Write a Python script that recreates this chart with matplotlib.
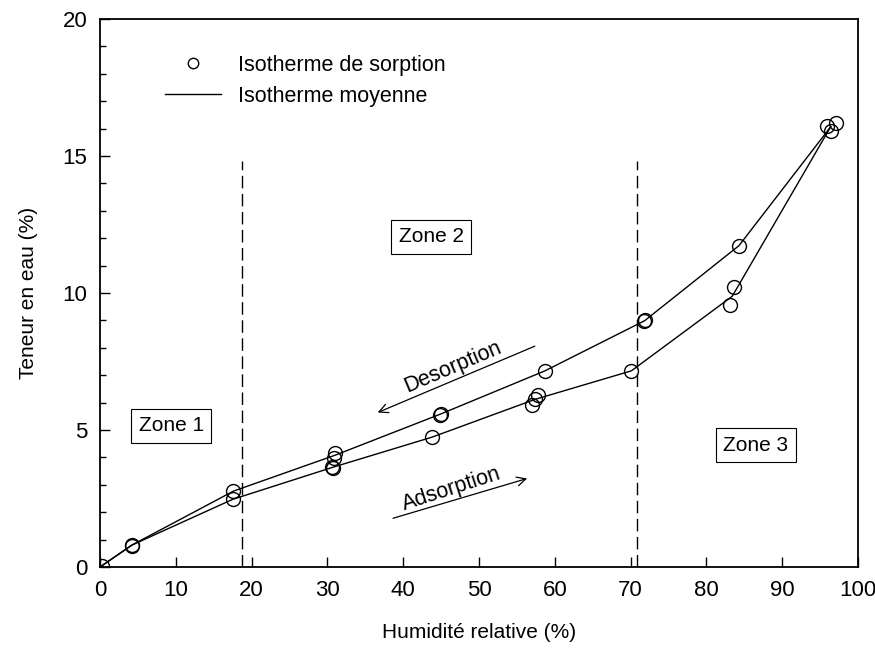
import numpy as np
import matplotlib as mpl
mpl.use('Agg')
import matplotlib.pyplot as plt

mpl.rcParams['font.family'] = 'Liberation Sans'

# measured points (humidite relative %, teneur en eau %)
hr_pts = [0.2, 4.2, 4.2, 17.6, 17.5, 31.0, 30.9, 30.6, 30.8, 44.8, 45.0, 43.8,
          58.7, 57.8, 57.4, 57.0, 70.1, 71.8, 71.9, 84.3, 83.7, 83.1, 95.9, 97.1, 96.4]
te_pts = [0.05, 0.8, 0.78, 2.77, 2.47, 4.17, 3.99, 3.65, 3.63, 5.56, 5.6, 4.74,
          7.16, 6.29, 6.13, 5.93, 7.16, 8.98, 9.0, 11.73, 10.22, 9.55, 16.1, 16.2, 15.9]

# mean isotherms
hr_des = [0, 4.2, 17.6, 31.0, 44.9, 58.7, 71.85, 84.3, 96.4]
te_des = [0, 0.8, 2.77, 4.08, 5.58, 7.16, 8.99, 11.73, 16.07]
hr_ads = [0, 4.2, 17.5, 30.7, 43.8, 57.4, 70.1, 83.4, 96.4]
te_ads = [0, 0.8, 2.47, 3.64, 4.74, 6.12, 7.16, 9.88, 16.07]

zone_limits = [18.7, 70.9]

fig = plt.figure(figsize=(8.75, 6.49), dpi=100)
ax = fig.add_axes([0.1143, 0.1263, 0.8663, 0.8444])

ax.plot(hr_pts, te_pts, 'o', mfc='none', mec='k', ms=10, mew=1.0,
        label='Isotherme de sorption', zorder=3)
ax.plot(hr_des, te_des, '-', color='k', lw=1.0, label='Isotherme moyenne')
ax.plot(hr_ads, te_ads, '-', color='k', lw=1.0)

for xl in zone_limits:
    ax.plot([xl, xl], [0, 14.8], color='k', lw=1.0, dashes=(9, 4))

box = dict(boxstyle='square,pad=0.35', fc='white', ec='k', lw=0.8)
ax.text(9.4, 5.15, 'Zone 1', fontsize=15, ha='center', va='center', bbox=box)
ax.text(43.7, 12.05, 'Zone 2', fontsize=15, ha='center', va='center', bbox=box)
ax.text(86.5, 4.45, 'Zone 3', fontsize=15, ha='center', va='center', bbox=box)

arrow = dict(arrowstyle='->', color='k', lw=0.9, mutation_scale=16)
ax.annotate('', xy=(36.3, 5.6), xytext=(57.7, 8.1), arrowprops=arrow)
ax.annotate('', xy=(56.7, 3.26), xytext=(38.3, 1.75), arrowprops=arrow)
ax.text(46.6, 7.3, 'Desorption', fontsize=15.5, rotation=23,
        ha='center', va='center', rotation_mode='anchor')
ax.text(46.4, 2.85, 'Adsorption', fontsize=15.5, rotation=18,
        ha='center', va='center', rotation_mode='anchor')

ax.set_xlim(0, 100)
ax.set_ylim(0, 20)
ax.set_xticks(np.arange(0, 101, 10))
ax.set_yticks(np.arange(0, 21, 5))
ax.set_yticks(np.arange(0, 21, 1), minor=True)
ax.tick_params(which='both', direction='in', top=False, right=False, labelsize=16)
ax.tick_params(which='major', length=7, width=1)
ax.tick_params(which='minor', length=4, width=1)
ax.tick_params(axis='x', pad=9)
ax.tick_params(axis='y', pad=9)
for s in ax.spines.values():
    s.set_linewidth(1.3)

ax.set_xlabel('Humidité relative (%)', fontsize=15, labelpad=16)
ax.set_ylabel('Teneur en eau (%)', fontsize=15, labelpad=18)

leg = ax.legend(loc='upper left', bbox_to_anchor=(0.06, 0.97), frameon=False,
                fontsize=15.5, handlelength=2.6, handletextpad=0.8, markerscale=0.75,
                labelspacing=0.45)

plt.savefig('out.png', dpi=100)
